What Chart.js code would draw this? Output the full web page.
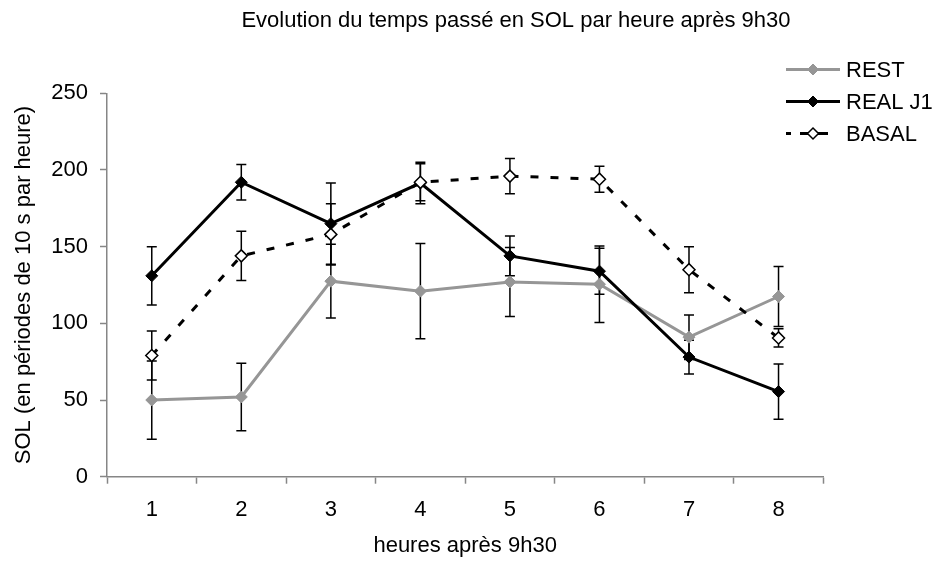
<!DOCTYPE html>
<html>
<head>
<meta charset="utf-8">
<script src="https://cdn.jsdelivr.net/npm/chart.js@4.4.0/dist/chart.umd.min.js"></script>
<style>
  html, body { margin: 0; padding: 0; background: #fff; }
  #wrap { width: 939px; height: 565px; }
</style>
</head>
<body>
<div id="wrap"><canvas id="chart" width="939" height="565"></canvas></div>
<script>
// ---- données ----
var hours = ['1', '2', '3', '4', '5', '6', '7', '8'];
var restValues  = [50, 52, 127.5, 121, 127, 125.5, 91, 117.5];
var restErr     = [25.5, 22, 24, 31, 22.5, 25, 14.5, 19.5];
var realValues  = [131, 192, 165, 191.5, 144, 134, 78, 55.5];
var realErr     = [19, 11.5, 26.5, 13.5, 13, 15, 11, 18];
var basalValues = [79, 144, 158, 192, 196, 194, 135, 90.5];
var basalErr    = [16, 16, 20, 12, 11.5, 8.5, 15, 6];
var seriesNames = ['REST', 'REAL J1', 'BASAL'];
var yTicks = [0, 50, 100, 150, 200, 250];

var FONT = '"Liberation Sans", Arial, sans-serif';
var GREY = '#969696';
var AXIS = '#868686';
var errors = [restErr, realErr, basalErr];

function diamond(ctx, x, y, r, fill, stroke, lw) {
  ctx.beginPath();
  ctx.moveTo(x, y - r); ctx.lineTo(x + r, y); ctx.lineTo(x, y + r); ctx.lineTo(x - r, y);
  ctx.closePath();
  ctx.fillStyle = fill; ctx.fill();
  ctx.lineWidth = lw; ctx.strokeStyle = stroke; ctx.stroke();
}

// barres d'erreur + titre + légende
var overlay = {
  id: 'overlay',
  beforeDatasetsDraw: function(chart) {
    var ctx = chart.ctx, ys = chart.scales.y;
    ctx.save();
    ctx.strokeStyle = '#000'; ctx.lineWidth = 1.5; ctx.setLineDash([]);
    chart.data.datasets.forEach(function(ds, i) {
      var meta = chart.getDatasetMeta(i);
      ds.data.forEach(function(v, j) {
        var x = meta.data[j].x, e = errors[i][j];
        var top = ys.getPixelForValue(v + e), bot = ys.getPixelForValue(v - e);
        ctx.beginPath();
        ctx.moveTo(x, top); ctx.lineTo(x, bot);
        ctx.moveTo(x - 5, top); ctx.lineTo(x + 5, top);
        ctx.moveTo(x - 5, bot); ctx.lineTo(x + 5, bot);
        ctx.stroke();
      });
    });
    ctx.restore();
  },
  afterDraw: function(chart) {
    var ctx = chart.ctx;
    ctx.save();
    ctx.fillStyle = '#000';
    ctx.font = '22px ' + FONT;
    ctx.textAlign = 'center'; ctx.textBaseline = 'alphabetic';
    ctx.fillText('Evolution du temps passé en SOL par heure après 9h30', 516, 26.5);

    // légende
    var rows = [69.5, 101.5, 133.5];
    chart.data.datasets.forEach(function(ds, i) {
      var y = rows[i];
      ctx.strokeStyle = ds.borderColor; ctx.lineWidth = 3;
      ctx.beginPath();
      if (ds.borderDash) {
        // tirets comme dans la légende Excel : - -◇-
        ctx.moveTo(786, y); ctx.lineTo(791, y);
        ctx.moveTo(800, y); ctx.lineTo(808, y);
        ctx.moveTo(818, y); ctx.lineTo(828, y);
      } else {
        ctx.moveTo(786, y); ctx.lineTo(840, y);
      }
      ctx.stroke();
      diamond(ctx, 813, y, 5.5, ds.pointBackgroundColor, ds.pointBorderColor, ds.pointBorderWidth);
      ctx.fillStyle = '#000';
      ctx.textAlign = 'left'; ctx.textBaseline = 'middle';
      ctx.fillText(seriesNames[i], 846, y + 1);
    });
    ctx.restore();
  }
};

new Chart(document.getElementById('chart'), {
  type: 'line',
  data: {
    labels: hours,
    datasets: [
      { label: seriesNames[0], data: restValues, borderColor: GREY, borderWidth: 3,
        pointStyle: 'rectRot', pointRadius: 6, pointBackgroundColor: GREY, pointBorderColor: GREY,
        pointBorderWidth: 1, tension: 0, order: 2 },
      { label: seriesNames[1], data: realValues, borderColor: '#000', borderWidth: 3,
        pointStyle: 'rectRot', pointRadius: 6, pointBackgroundColor: '#000', pointBorderColor: '#000',
        pointBorderWidth: 1, tension: 0, order: 1 },
      { label: seriesNames[2], data: basalValues, borderColor: '#000', borderWidth: 3, borderDash: [8, 12],
        pointStyle: 'rectRot', pointRadius: 6, pointBackgroundColor: '#fff', pointBorderColor: '#000',
        pointBorderWidth: 1.5, tension: 0, order: 0 }
    ]
  },
  options: {
    responsive: false, animation: false,
    layout: { padding: { left: 0, top: 93.3, right: 115.7, bottom: 0 } },
    plugins: { legend: { display: false }, title: { display: false }, tooltip: { enabled: false } },
    scales: {
      x: {
        offset: true,
        grid: { offset: true, drawOnChartArea: false, drawTicks: true, tickLength: 7, tickColor: AXIS, tickWidth: 1.5 },
        border: { color: AXIS, width: 1.5 },
        ticks: { color: '#000', font: { family: FONT, size: 22 }, padding: 13, maxRotation: 0 },
        title: { display: true, text: 'heures après 9h30', color: '#000', font: { family: FONT, size: 22 }, padding: { top: 0, bottom: 6 } },
        afterFit: function(s) { s.height = 88.3; }
      },
      y: {
        min: 0, max: 250,
        afterBuildTicks: function(s) { s.ticks = yTicks.map(function(v) { return { value: v }; }); },
        grid: { drawOnChartArea: false, drawTicks: true, tickLength: 7, tickColor: AXIS, tickWidth: 1.5 },
        border: { color: AXIS, width: 1.5 },
        ticks: { color: '#000', font: { family: FONT, size: 22 }, padding: 12 },
        title: { display: true, text: 'SOL (en périodes de 10 s par heure)', color: '#000', font: { family: FONT, size: 22 }, padding: { top: 11, bottom: 0 } },
        afterFit: function(s) { s.width = 107; }
      }
    }
  },
  plugins: [overlay]
});
</script>
</body>
</html>
